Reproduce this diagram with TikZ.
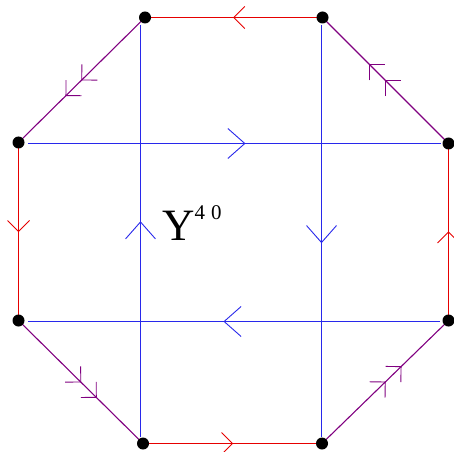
\documentclass[tikz,border=0pt]{standalone}
\usepackage{fontspec}
\setmainfont{Liberation Serif}
\usetikzlibrary{decorations.markings}
\definecolor{myred}{RGB}{230,0,0}
\definecolor{mypurple}{RGB}{128,0,128}
\definecolor{myblue}{RGB}{40,40,235}
\tikzset{
  dot/.style={circle,fill=black,inner sep=0pt,minimum size=12bp},
  edgeline/.style={line width=1.1bp},
  smallchev/.style={decoration={markings,mark=at position #1 with {\draw[line width=0.9bp] (-11bp,11bp) -- (0bp,0bp) -- (-11bp,-11bp);}},postaction=decorate},
  bigchev/.style={decoration={markings,mark=at position #1 with {\draw[line width=0.9bp] (-17bp,15bp) -- (0bp,0bp) -- (-17bp,-15bp);}},postaction=decorate},
  dblchev/.style={decoration={markings,
     mark=at position 0.5 with {\draw[line width=0.9bp] (-11bp,11bp) -- (0bp,0bp) -- (-11bp,-11bp);},
     mark=at position 0.625 with {\draw[line width=0.9bp] (-11bp,11bp) -- (0bp,0bp) -- (-11bp,-11bp);}},postaction=decorate},
}
\begin{document}
\begin{tikzpicture}[x=1bp,y=-1bp]
\useasboundingbox (0,0) rectangle (454,452);
% vertices
\coordinate (v1) at (145,17.5);
\coordinate (v2) at (322.5,17.5);
\coordinate (v3) at (448.5,143.5);
\coordinate (v4) at (448.5,320.5);
\coordinate (v5) at (322,443.5);
\coordinate (v6) at (143,443.5);
\coordinate (v7) at (18.5,320.5);
\coordinate (v8) at (18.5,142.5);
% blue line ends
\coordinate (ht1) at (28,143.5);
\coordinate (ht2) at (441,143.5);
\coordinate (hb1) at (440,321.5);
\coordinate (hb2) at (28,321.5);
\coordinate (vl1) at (140.5,437);
\coordinate (vl2) at (140.5,25);
\coordinate (vr1) at (321.5,25);
\coordinate (vr2) at (321.5,437);
% blue lines
\draw[draw=myblue,edgeline] (ht1) -- (ht2);
\draw[draw=myblue,edgeline] (hb1) -- (hb2);
\draw[draw=myblue,edgeline] (vl1) -- (vl2);
\draw[draw=myblue,edgeline] (vr1) -- (vr2);
\path[myblue,bigchev=0.525] (ht1) -- (ht2);
\path[myblue,bigchev=0.524] (hb1) -- (hb2);
\path[myblue,bigchev=0.522] (vl1) -- (vl2);
\path[myblue,bigchev=0.528] (vr1) -- (vr2);
% red edges
\draw[draw=myred,edgeline] (v2) -- (v1);
\draw[draw=myred,edgeline] (v4) -- (v3);
\draw[draw=myred,edgeline] (v6) -- (v5);
\draw[draw=myred,edgeline] (v8) -- (v7);
\path[myred,smallchev=0.5] (v2) -- (v1);
\path[myred,smallchev=0.5] (v4) -- (v3);
\path[myred,smallchev=0.5] (v6) -- (v5);
\path[myred,smallchev=0.5] (v8) -- (v7);
% purple edges
\draw[draw=mypurple,edgeline] (v1) -- (v8);
\draw[draw=mypurple,edgeline] (v3) -- (v2);
\draw[draw=mypurple,edgeline] (v5) -- (v4);
\draw[draw=mypurple,edgeline] (v7) -- (v6);
\path[mypurple,dblchev] (v1) -- (v8);
\path[mypurple,dblchev] (v3) -- (v2);
\path[mypurple,dblchev] (v5) -- (v4);
\path[mypurple,dblchev] (v7) -- (v6);
% dots
\foreach \v in {v1,v2,v3,v4,v5,v6,v7,v8} \node[dot] (d\v) at (\v) {};
% label
\node[anchor=base west,inner sep=0pt] (lab) at (162,240.7)
  {\fontsize{45}{50}\selectfont Y\raisebox{21pt}{\fontsize{21}{24}\selectfont 4\hspace{6pt}0}};
\end{tikzpicture}
\end{document}
